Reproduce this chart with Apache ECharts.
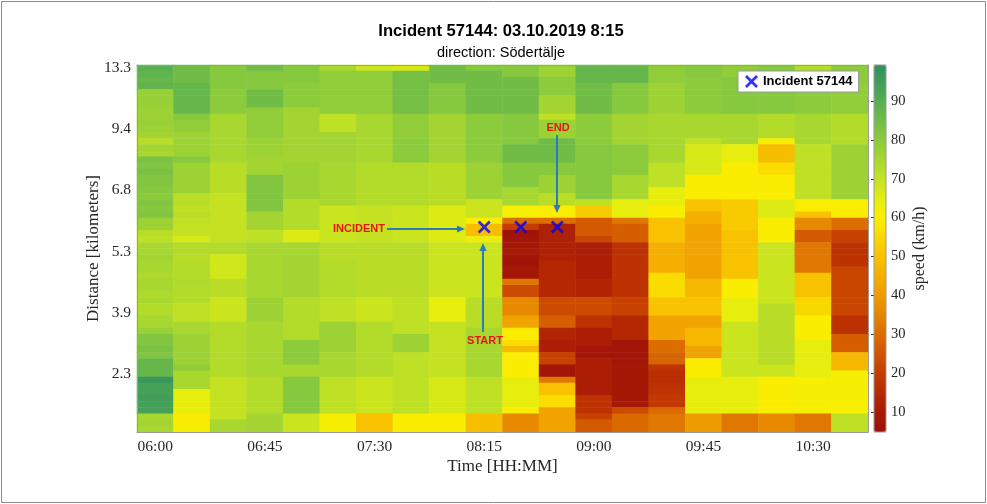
<!DOCTYPE html>
<html>
<head>
<meta charset="utf-8">
<script src="https://cdn.jsdelivr.net/npm/echarts@6/dist/echarts.min.js"></script>
<style>html,body{margin:0;padding:0;background:#fff}#c{width:987px;height:504px}</style>
</head>
<body>
<div id="c"></div>
<script>
// ---- data ----
const timeLabels = ['06:00','06:15','06:30','06:45','07:00','07:15','07:30','07:45','08:00','08:15','08:30','08:45','09:00','09:15','09:30','09:45','10:00','10:15','10:30','10:45'];
const yTickLabels = ['13.3','9.4','6.8','5.3','3.9','2.3']; // rows 0,10,20,30,40,50 (top to bottom)
const rowCount = 60;
const incidentTimes = ['08:15','08:30','08:45'];
const incidentRow = 26;
const colorbarTicks = [10,20,30,40,50,60,70,80,90];

// speed (km/h) per time column, rows listed top (13.3 km) to bottom
const col0 = [89,88,87,88,78,78,78,77,77,78,77,76,72,76,75,83,82,83,82,82,81,80,82,81,82,77,77,72,71,75,75,76,75,75,74,75,75,74,75,73,73,75,75,78,82,82,83,82,87,87,87,97,94,94,95,94,94,75,76,75];
const col1 = [85,85,85,87,87,87,87,87,81,79,79,77,77,77,77,81,77,77,77,77,77,72,72,71,72,71,70,70,67,73,73,72,73,73,73,74,73,73,73,71,71,71,75,75,77,77,77,77,77,79,75,75,75,64,64,64,64,60,60,61];
const col2 = [81,81,81,81,80,80,80,80,75,75,75,75,75,75,75,75,72,72,72,72,72,70,70,70,70,70,70,70,70,73,73,68,68,68,68,72,72,72,69,69,69,69,73,73,73,73,73,73,73,73,73,70,70,70,70,70,70,70,75,75];
const col3 = [85,81,81,81,85,85,85,79,79,79,79,79,77,77,77,76,76,76,82,82,82,82,82,82,76,76,76,71,71,75,75,75,75,75,75,75,75,75,77,77,77,77,75,75,75,75,75,75,75,75,75,73,73,73,73,73,73,76,76,76];
const col4 = [81,81,81,80,80,80,80,76,76,76,76,76,76,76,76,76,77,77,77,77,77,77,73,73,73,73,73,66,66,75,75,76,76,76,76,76,76,76,73,73,73,73,73,73,73,80,80,80,80,75,75,81,81,81,81,81,81,69,69,69];
const col5 = [75,79,79,79,79,79,79,79,71,71,71,76,76,76,76,76,75,75,75,75,75,75,75,69,69,69,69,69,69,72,72,72,73,73,73,73,73,73,71,71,71,71,77,77,77,77,77,75,75,75,75,71,71,71,71,71,71,61,61,61];
const col6 = [69,79,79,79,79,79,79,79,75,75,75,75,75,75,75,75,73,73,73,73,73,73,73,70,70,70,70,70,70,72,72,72,72,72,72,72,72,72,69,69,69,69,73,73,73,73,73,73,73,73,73,69,69,69,69,69,69,50,50,50];
const col7 = [67,84,84,84,84,84,84,84,79,79,79,79,80,80,80,80,73,73,73,73,73,73,73,69,69,69,69,69,69,72,72,72,72,72,72,72,72,72,71,71,71,71,71,71,77,77,77,71,71,71,71,71,71,71,71,71,71,60,60,60];
const col8 = [85,85,85,81,81,81,81,81,76,76,76,76,76,76,76,76,72,72,72,72,72,72,72,66,66,66,66,66,66,69,69,69,69,69,69,69,69,69,64,64,64,64,70,70,70,70,70,70,70,70,70,67,67,67,67,67,67,60,60,60];
const col9 = [81,85,85,85,85,85,85,85,80,80,80,80,80,80,80,80,77,77,77,77,77,77,69,69,69,60,49,49,63,69,69,69,69,69,69,69,69,69,72,72,72,72,72,75,75,75,75,75,75,75,75,71,71,71,71,71,71,49,49,49];
const col10 = [81,81,85,85,85,85,85,85,81,81,81,81,81,85,85,85,81,81,81,81,75,75,75,61,61,30,20,7,8,9,10,8,7,9,8,32,23,23,36,36,36,42,42,60,60,56,48,60,60,60,60,64,64,64,64,64,60,36,36,36];
const col11 = [77,77,80,80,80,76,76,76,71,77,77,77,85,85,85,85,81,81,77,77,77,72,72,60,60,30,12,12,12,12,12,12,14,14,14,14,14,14,23,23,23,27,27,13,13,11,11,21,21,8,8,32,50,50,56,56,42,42,42,42];
const col12 = [87,87,87,85,85,85,85,85,80,80,80,80,80,81,81,81,81,81,81,81,81,81,71,52,52,26,26,26,22,11,11,11,11,11,11,13,13,13,23,23,23,17,17,11,11,11,8,8,11,11,11,11,11,11,17,17,17,21,26,26];
const col13 = [87,87,87,81,81,81,81,81,76,76,76,76,76,80,80,80,80,80,75,75,75,75,64,64,64,32,27,27,27,17,17,17,17,17,17,17,17,17,21,21,21,14,14,14,14,8,8,8,8,9,9,9,9,9,9,9,23,29,29,29];
const col14 = [79,79,79,77,77,77,77,77,75,75,75,75,75,75,75,75,71,71,71,71,64,64,64,60,60,50,50,50,50,45,45,45,45,45,56,56,56,56,50,50,50,42,42,42,42,30,30,28,28,18,16,16,17,18,19,19,29,32,32,32];
const col15 = [81,81,80,80,80,80,80,80,75,75,75,75,71,67,67,67,67,67,60,60,60,60,50,50,45,45,42,42,42,42,42,42,42,42,42,47,47,47,50,50,50,42,42,47,47,47,42,42,60,60,60,64,64,64,64,64,64,40,40,40];
const col16 = [79,79,81,81,81,81,81,81,75,75,75,75,75,64,64,64,60,60,60,60,60,60,52,52,52,52,52,50,50,50,50,50,50,50,50,60,60,60,64,64,64,64,69,69,69,69,69,69,69,69,69,64,64,64,64,64,64,32,32,32];
const col17 = [81,81,83,83,81,81,81,81,73,73,73,73,61,49,49,49,56,56,60,60,60,60,66,66,66,60,60,60,60,69,69,69,69,69,69,69,69,69,69,72,72,72,72,72,72,72,72,72,72,69,69,60,60,60,60,60,60,36,36,36];
const col18 = [73,80,80,80,80,80,80,80,75,75,75,75,75,71,71,71,71,71,71,71,71,71,60,60,50,36,36,26,26,32,32,32,32,32,50,50,50,50,55,55,55,60,60,60,60,64,64,64,64,64,64,61,61,61,61,61,61,32,32,32];
const col19 = [80,80,80,79,79,79,79,79,73,73,73,73,73,77,77,77,77,77,77,77,77,77,60,60,60,30,30,21,21,17,17,17,17,22,22,22,22,22,22,22,22,17,17,17,27,27,27,47,47,47,61,61,61,61,61,61,61,71,71,71];

const columns = [col0,col1,col2,col3,col4,col5,col6,col7,col8,col9,col10,col11,col12,col13,col14,col15,col16,col17,col18,col19];

// ---- build ----
const rowCats = [];
for (let r = 0; r < rowCount; r++) rowCats.push(String(r));
const heat = [];
columns.forEach((col, c) => col.forEach((v, r) => heat.push([c, r, v])));
const incidentData = incidentTimes.map(t => [timeLabels.indexOf(t), incidentRow]);

// colormap (style)
const stops = [[4.8,'#9b0f0a'],[10,'#a81a05'],[20,'#c43c00'],[30,'#dc6e00'],[40,'#f09c00'],[50,'#f8c200'],[60,'#fbee00'],[65,'#e2ee10'],[70,'#c4e222'],[80,'#8ccb3c'],[90,'#56ae52'],[99.3,'#2f8f5e']];
function hex(h){return [parseInt(h.substr(1,2),16),parseInt(h.substr(3,2),16),parseInt(h.substr(5,2),16)];}
function cmap(v){
  for (let i=0;i<stops.length-1;i++){
    const [a,ca]=stops[i],[b,cb]=stops[i+1];
    if (v<=b){const t=(v-a)/(b-a);const A=hex(ca),B=hex(cb);
      return 'rgb('+A.map((x,k)=>Math.round(x+(B[k]-x)*t)).join(',')+')';}
  }
  return stops[stops.length-1][1];
}
const VMIN=4.8, VMAX=99.3, N=96;
const palette=[];
for(let i=0;i<N;i++) palette.push(cmap(VMIN+(VMAX-VMIN)*i/(N-1)));

const xMark = 'path://M0,1.5L1.5,0L5,3.5L8.5,0L10,1.5L6.5,5L10,8.5L8.5,10L5,6.5L1.5,10L0,8.5L3.5,5Z';
const serif = 'Liberation Serif';
const sans = 'Liberation Sans';
const axisGray = '#9a9a9a';
const tickCol = '#333';

const chart = echarts.init(document.getElementById('c'), null, {renderer:'canvas'});
const arrowCol = '#2b7bba';
function arrowHead(x,y,dir){ // dir: 'r','u','d'
  const L=8,W=3.6;
  if(dir==='r') return [[x,y],[x-L,y-W],[x-L,y+W]];
  if(dir==='u') return [[x,y],[x-W,y+L],[x+W,y+L]];
  return [[x,y],[x-W,y-L],[x+W,y-L]];
}
chart.setOption({
  animation:false,
  backgroundColor:'#fff',
  title:[
    {text:'Incident 57144: 03.10.2019 8:15', left:501, top:23, textAlign:'center', padding:0,
     textStyle:{fontFamily:sans, fontSize:16.6, fontWeight:'bold', color:'#000'}},
    {text:'direction: Södertälje', left:501, top:45, textAlign:'center', padding:0,
     textStyle:{fontFamily:sans, fontSize:14.5, fontWeight:'normal', color:'#000'}}
  ],
  legend:{
    data:[{name:'Incident 57144', icon:xMark}],
    left:738, top:71, padding:[4,6,4,7], itemWidth:13, itemHeight:13,
    backgroundColor:'#fff', borderColor:'#999', borderWidth:1, borderRadius:0,
    textStyle:{fontFamily:sans, fontSize:13, fontWeight:'bold', color:'#000'}
  },
  grid:[
    {left:137, top:65, width:731, height:367},
    {left:874, top:65, width:12, height:367}
  ],
  xAxis:[
    {type:'category', gridIndex:0, data:timeLabels, position:'bottom', z:5,
     axisLine:{lineStyle:{color:axisGray, width:1}},
     axisTick:{inside:true, interval:2, alignWithLabel:true, length:5, lineStyle:{color:tickCol}},
     axisLabel:{interval:2, margin:7, fontFamily:serif, fontSize:15.5, color:'#262626'},
     name:'Time [HH:MM]', nameLocation:'middle', nameGap:26, nameMoveOverlap:false,
     nameTextStyle:{fontFamily:serif, fontSize:17, color:'#262626'}},
    {type:'category', gridIndex:0, data:timeLabels, position:'top', z:5,
     axisLine:{lineStyle:{color:axisGray, width:1}},
     axisTick:{inside:true, interval:2, alignWithLabel:true, length:5, lineStyle:{color:tickCol}},
     axisLabel:{show:false}},
    {type:'value', gridIndex:1, show:false, min:0, max:1}
  ],
  yAxis:[
    {type:'category', gridIndex:0, data:rowCats, inverse:true, position:'left', z:5,
     axisLine:{lineStyle:{color:axisGray, width:1}},
     axisTick:{inside:true, interval:9, alignWithLabel:true, length:5, lineStyle:{color:tickCol}},
     axisLabel:{interval:9, margin:6, fontFamily:serif, fontSize:15.5, color:'#262626',
       formatter:(v,i)=> yTickLabels[Math.round(i/10)] || ''},
     name:'Distance [kilometers]', nameLocation:'middle', nameGap:35, nameRotate:90, nameMoveOverlap:false,
     nameTextStyle:{fontFamily:serif, fontSize:17, color:'#262626'}},
    {type:'category', gridIndex:0, data:rowCats, inverse:true, position:'right', z:5,
     axisLine:{lineStyle:{color:axisGray, width:1}},
     axisTick:{inside:true, interval:9, alignWithLabel:true, length:5, lineStyle:{color:tickCol}},
     axisLabel:{show:false}},
    {type:'value', gridIndex:1, min:VMIN, max:VMAX, position:'right', z:5,
     splitLine:{show:false},
     axisLine:{show:false},
     axisTick:{show:true, inside:true, length:3, customValues:colorbarTicks, lineStyle:{color:tickCol}},
     axisLabel:{show:true, margin:5, customValues:colorbarTicks, fontFamily:serif, fontSize:14.5, color:'#262626'},
     name:'speed (km/h)', nameLocation:'middle', nameGap:26, nameRotate:90, nameMoveOverlap:false,
     nameTextStyle:{fontFamily:serif, fontSize:16, color:'#262626'}}
  ],
  visualMap:{
    type:'continuous', min:VMIN, max:VMAX, seriesIndex:0, calculable:false,
    show:true, left:874, top:65, itemWidth:12, itemHeight:367, padding:0,
    text:null, showLabel:false, hoverLink:false,
    inRange:{color:palette}
  },
  series:[
    {type:'heatmap', xAxisIndex:0, yAxisIndex:0, data:heat, progressive:0,
     itemStyle:{borderWidth:0}, emphasis:{disabled:true}},
    {type:'scatter', name:'Incident 57144', xAxisIndex:0, yAxisIndex:0, data:incidentData,
     symbol:xMark, symbolSize:13, itemStyle:{color:'#0000ff'}, z:10},
    {type:'scatter', xAxisIndex:2, yAxisIndex:2, data:[], silent:true}
  ],
  graphic:[
    {type:'rect', shape:{x:1.5, y:1.5, width:984, height:501}, style:{fill:null, stroke:'#8c8c8c', lineWidth:1}, silent:true},
    {type:'rect', shape:{x:874, y:65, width:12, height:367}, style:{fill:null, stroke:'#999', lineWidth:1}, z:100, silent:true},
    // INCIDENT
    {type:'text', x:385, y:229, style:{text:'INCIDENT', fill:'#e8141c', font:'bold 11px "Liberation Sans"', align:'right', verticalAlign:'middle'}, z:100},
    {type:'line', shape:{x1:387, y1:229, x2:458, y2:229}, style:{stroke:arrowCol, lineWidth:2}, z:100},
    {type:'polygon', shape:{points:arrowHead(465,229,'r')}, style:{fill:arrowCol}, z:100},
    // START
    {type:'text', x:485, y:341, style:{text:'START', fill:'#e8141c', font:'bold 11px "Liberation Sans"', align:'center', verticalAlign:'middle'}, z:100},
    {type:'line', shape:{x1:483, y1:332, x2:483, y2:250}, style:{stroke:arrowCol, lineWidth:2}, z:100},
    {type:'polygon', shape:{points:arrowHead(483,243,'u')}, style:{fill:arrowCol}, z:100},
    // END
    {type:'text', x:558, y:128, style:{text:'END', fill:'#e8141c', font:'bold 11px "Liberation Sans"', align:'center', verticalAlign:'middle'}, z:100},
    {type:'line', shape:{x1:557, y1:135, x2:557, y2:206}, style:{stroke:arrowCol, lineWidth:2}, z:100},
    {type:'polygon', shape:{points:arrowHead(557,213,'d')}, style:{fill:arrowCol}, z:100}
  ]
});
</script>
</body>
</html>
